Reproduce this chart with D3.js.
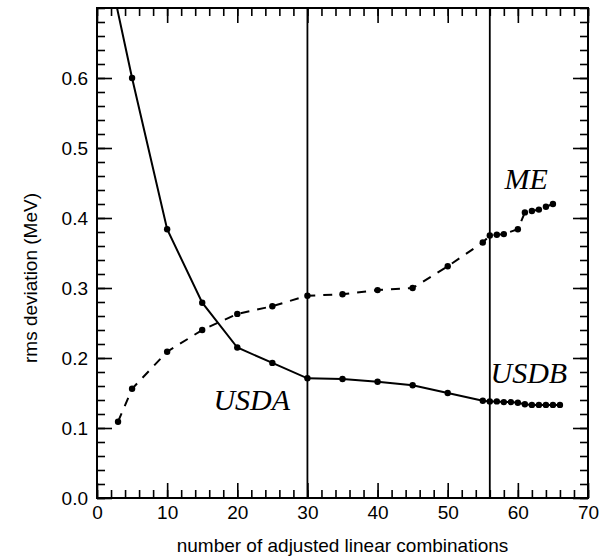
<!DOCTYPE html>
<html>
<head>
<meta charset="utf-8">
<script src="https://cdn.jsdelivr.net/npm/d3@7"></script>
<style>
  html, body { margin: 0; padding: 0; background: #fff; }
  svg { display: block; }
</style>
</head>
<body>
<svg id="chart" width="614" height="557"></svg>
<script>
// rms deviation of the fit vs. number of adjusted linear combinations
const solidX = [2, 5, 10, 15, 20, 25, 30, 35, 40, 45, 50, 55, 56, 57, 58, 59, 60, 61, 62, 63, 64, 65, 66];
const solidY = [0.74, 0.600, 0.384, 0.279, 0.215, 0.193, 0.171, 0.170, 0.166, 0.161, 0.150, 0.139,
                0.138, 0.138, 0.137, 0.137, 0.136, 0.134, 0.133, 0.133, 0.133, 0.133, 0.133];

const dashedX = [3, 5, 10, 15, 20, 25, 30, 35, 40, 45, 50, 55, 56, 57, 58, 60, 61, 62, 63, 64, 65];
const dashedY = [0.109, 0.156, 0.209, 0.240, 0.263, 0.274, 0.289, 0.291, 0.297, 0.300, 0.331, 0.365,
                 0.375, 0.376, 0.377, 0.384, 0.408, 0.410, 0.412, 0.416, 0.420];

const markerX = [30, 56];

const xTicks = [0, 10, 20, 30, 40, 50, 60, 70];
const yTicks = [0.0, 0.1, 0.2, 0.3, 0.4, 0.5, 0.6];

const annotations = [
  { text: "USDA", x: 16.6, y: 0.126 },
  { text: "USDB", x: 56.1, y: 0.164 },
  { text: "ME",   x: 58.1, y: 0.442 }
];

const W = 614, H = 557;
const margin = { top: 8, right: 26, bottom: 59, left: 97 };
const iw = W - margin.left - margin.right;
const ih = H - margin.top - margin.bottom;

const svg = d3.select("#chart");
const g = svg.append("g").attr("transform", `translate(${margin.left},${margin.top})`);

const x = d3.scaleLinear().domain([0, 70]).range([0, iw]);
const y = d3.scaleLinear().domain([0, 0.7]).range([ih, 0]);

svg.append("defs").append("clipPath").attr("id", "plotClip")
  .append("rect").attr("width", iw).attr("height", ih);

const sansFont = "'Liberation Sans', Arial, Helvetica, sans-serif";
const majorLen = 15, minorLen = 8;

const xMinor = d3.range(0, 71, 2);
const yMinor = d3.range(0, 0.7001, 0.02);

function styleAxis(sel) {
  sel.select(".domain").remove();
  sel.selectAll(".tick line").attr("stroke", "#000").attr("stroke-width", 1.6);
  sel.selectAll(".tick text").attr("fill", "#000").style("font-family", sansFont).style("font-size", "19px");
}

// minor ticks on all four sides
g.append("g").attr("transform", `translate(0,${ih})`)
  .call(d3.axisBottom(x).tickValues(xMinor).tickSize(-minorLen).tickFormat(""))
  .call(styleAxis);
g.append("g")
  .call(d3.axisTop(x).tickValues(xMinor).tickSize(-minorLen).tickFormat(""))
  .call(styleAxis);
g.append("g")
  .call(d3.axisLeft(y).tickValues(yMinor).tickSize(-minorLen).tickFormat(""))
  .call(styleAxis);
g.append("g").attr("transform", `translate(${iw},0)`)
  .call(d3.axisRight(y).tickValues(yMinor).tickSize(-minorLen).tickFormat(""))
  .call(styleAxis);

// major ticks with labels
g.append("g").attr("transform", `translate(0,${ih})`)
  .call(d3.axisBottom(x).tickValues(xTicks).tickSize(-majorLen).tickPadding(8).tickFormat(d3.format("d")))
  .call(styleAxis);
g.append("g")
  .call(d3.axisTop(x).tickValues(xTicks).tickSize(-majorLen).tickFormat(""))
  .call(styleAxis);
g.append("g")
  .call(d3.axisLeft(y).tickValues(yTicks).tickSize(-majorLen).tickPadding(9).tickFormat(d3.format(".1f")))
  .call(styleAxis);
g.append("g").attr("transform", `translate(${iw},0)`)
  .call(d3.axisRight(y).tickValues(yTicks).tickSize(-majorLen).tickFormat(""))
  .call(styleAxis);

// vertical reference lines
g.selectAll("line.marker").data(markerX).enter().append("line")
  .attr("class", "marker")
  .attr("x1", d => x(d)).attr("x2", d => x(d))
  .attr("y1", 0).attr("y2", ih)
  .attr("stroke", "#000").attr("stroke-width", 1.8);

const plot = g.append("g").attr("clip-path", "url(#plotClip)");

const solid = solidX.map((d, i) => [d, solidY[i]]);
const dashed = dashedX.map((d, i) => [d, dashedY[i]]);
const line = d3.line().x(d => x(d[0])).y(d => y(d[1]));

plot.append("path").datum(solid)
  .attr("d", line).attr("fill", "none")
  .attr("stroke", "#000").attr("stroke-width", 2);
plot.append("path").datum(dashed)
  .attr("d", line).attr("fill", "none")
  .attr("stroke", "#000").attr("stroke-width", 2)
  .attr("stroke-dasharray", "9,8");

plot.selectAll("circle.s").data(solid).enter().append("circle")
  .attr("class", "s").attr("cx", d => x(d[0])).attr("cy", d => y(d[1])).attr("r", 3.2).attr("fill", "#000");
plot.selectAll("circle.d").data(dashed).enter().append("circle")
  .attr("class", "d").attr("cx", d => x(d[0])).attr("cy", d => y(d[1])).attr("r", 3.2).attr("fill", "#000");

// frame
g.append("rect").attr("width", iw).attr("height", ih)
  .attr("fill", "none").attr("stroke", "#000").attr("stroke-width", 2);

// curve labels
g.selectAll("text.ann").data(annotations).enter().append("text")
  .attr("class", "ann")
  .attr("x", d => x(d.x)).attr("y", d => y(d.y))
  .style("font-family", "'Liberation Serif', 'Times New Roman', serif")
  .style("font-style", "italic")
  .style("font-size", "30px")
  .attr("fill", "#000")
  .text(d => d.text);

// axis titles
svg.append("text")
  .attr("x", margin.left + iw / 2).attr("y", 552)
  .attr("text-anchor", "middle")
  .style("font-family", sansFont).style("font-size", "19px")
  .text("number of adjusted linear combinations");

svg.append("text")
  .attr("transform", `translate(37,${margin.top + ih / 2 + 25}) rotate(-90)`)
  .attr("text-anchor", "middle")
  .style("font-family", sansFont).style("font-size", "19px")
  .text("rms deviation (MeV)");
</script>
</body>
</html>
